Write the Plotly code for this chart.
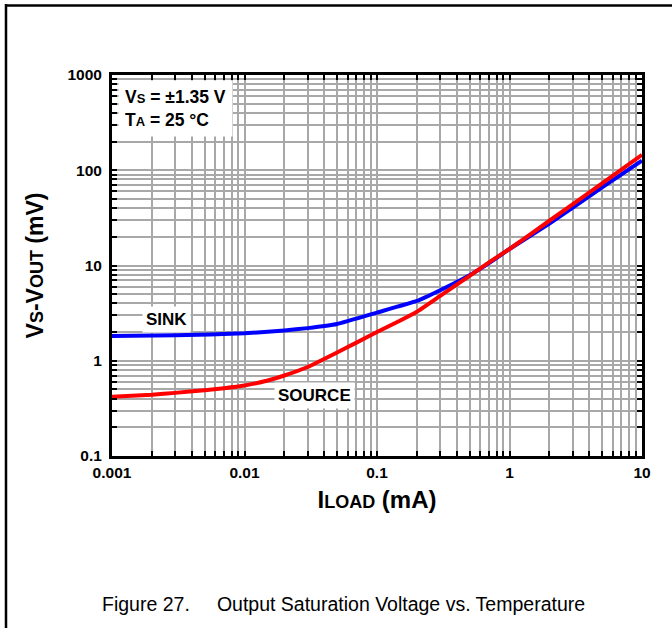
import plotly.graph_objects as go

# Data
iload_sink = [0.001, 0.003, 0.01, 0.02, 0.03, 0.05, 0.1, 0.2, 0.3, 0.5, 0.7, 1, 2, 5, 10]
sink = [1.82, 1.85, 1.94, 2.08, 2.2, 2.43, 3.2, 4.24, 5.5, 7.9, 10.6, 14.9, 27.5, 66, 126]
iload_source = [0.001, 0.002, 0.003, 0.005, 0.007, 0.01, 0.015, 0.02, 0.03, 0.05, 0.07,
                0.1, 0.15, 0.2, 0.3, 0.5, 0.7, 1, 2, 5, 10]
source = [0.42, 0.44, 0.46, 0.49, 0.515, 0.55, 0.62, 0.70, 0.86, 1.22, 1.55,
          2.0, 2.65, 3.27, 4.8, 7.8, 10.8, 14.9, 29.5, 73, 145]

x_ticks = [0.001, 0.01, 0.1, 1, 10]
x_ticktext = ["0.001", "0.01", "0.1", "1", "10"]
y_ticks = [0.1, 1, 10, 100, 1000]
y_ticktext = ["0.1", "1", "10", "100", "1000"]

minor_x = [m * d for d in x_ticks[:-1] for m in range(2, 10)]
minor_y = [m * d for d in y_ticks[:-1] for m in range(2, 10)]

GRID = "#a8a8a8"
FONT = "Liberation Sans, Arial, sans-serif"

fig = go.Figure()
fig.add_trace(go.Scatter(x=iload_sink, y=sink, mode="lines", name="SINK",
                         line=dict(color="#0000ff", width=4, shape="spline", smoothing=0.3)))
fig.add_trace(go.Scatter(x=iload_source, y=source, mode="lines", name="SOURCE",
                         line=dict(color="#ff0000", width=4, shape="spline", smoothing=0.3)))

axis_common = dict(
    showline=True, linecolor="black", linewidth=3, mirror="ticks",
    ticks="inside", ticklen=5, tickwidth=1.5, tickcolor="black",
    showgrid=True, gridcolor=GRID, gridwidth=1.5, zeroline=False,
    tickfont=dict(family=FONT, size=15.5, color="black", weight="bold"),
)

fig.update_xaxes(
    type="log", range=[-3, 1], tickmode="array", tickvals=x_ticks, ticktext=x_ticktext,
    minor=dict(tickmode="array", tickvals=minor_x, ticks="inside", ticklen=5, tickwidth=1.5,
               tickcolor="black", showgrid=True, gridcolor=GRID, gridwidth=1.5),
    title=dict(text="I<span style='font-size:18px'>LOAD</span> (mA)", standoff=12,
               font=dict(family=FONT, size=24, color="black", weight="bold")),
    **axis_common)
fig.update_yaxes(
    type="log", range=[-1, 3], tickmode="array", tickvals=y_ticks, ticktext=y_ticktext,
    minor=dict(tickmode="array", tickvals=minor_y, ticks="inside", ticklen=5, tickwidth=1.5,
               tickcolor="black", showgrid=True, gridcolor=GRID, gridwidth=1.5),
    title=dict(text="V<span style='font-size:18px'>S</span>-V<span style='font-size:18px'>OUT</span> (mV)",
               standoff=18, font=dict(family=FONT, size=23, color="black", weight="bold")),
    ticklabelstandoff=4,
    **axis_common)

fig.add_annotation(xref="paper", yref="paper", x=0.012, y=0.987, xanchor="left", yanchor="top",
                   align="left", showarrow=False, bgcolor="white", borderpad=6,
                   text="V<span style='font-size:13px'>S</span> = ±1.35 V<br>T<span style='font-size:13px'>A</span> = 25 °C",
                   font=dict(family=FONT, size=17.5, color="black", weight="bold"))
fig.add_annotation(xref="x", yref="y", x=-2.592, y=0.438, showarrow=False,
                   bgcolor="white", borderpad=3, text="SINK",
                   font=dict(family=FONT, size=17, color="black", weight="bold"))
fig.add_annotation(xref="x", yref="y", x=-1.468, y=-0.37, showarrow=False,
                   bgcolor="white", borderpad=3, text="SOURCE",
                   font=dict(family=FONT, size=17, color="black", weight="bold"))

# caption
fig.add_annotation(xref="paper", yref="paper", x=(343 - 112) / 530, y=(456 - 604) / 381,
                   showarrow=False, xanchor="center", yanchor="middle",
                   text="Figure 27.&nbsp;&nbsp;&nbsp;&nbsp;&nbsp;Output Saturation Voltage vs. Temperature",
                   font=dict(family="Liberation Sans Narrow, Arial Narrow, Liberation Sans, sans-serif",
                             size=19.5, color="black"))

# page frame lines
fig.add_shape(type="line", xref="paper", yref="paper", x0=-0.2, x1=1.2,
              y0=(456 - 5.5) / 381, y1=(456 - 5.5) / 381, line=dict(color="black", width=2.5))
fig.add_shape(type="line", xref="paper", yref="paper", x0=-0.2, x1=-0.2,
              y0=(456 - 4) / 381, y1=-0.6, line=dict(color="black", width=2.5))

fig.update_layout(
    width=672, height=628, showlegend=False,
    margin=dict(l=112, r=30, t=75, b=172),
    paper_bgcolor="white", plot_bgcolor="white",
)

fig.write_html("out.html", config={"displayModeBar": False},
               post_script="document.body.style.margin='0';")
